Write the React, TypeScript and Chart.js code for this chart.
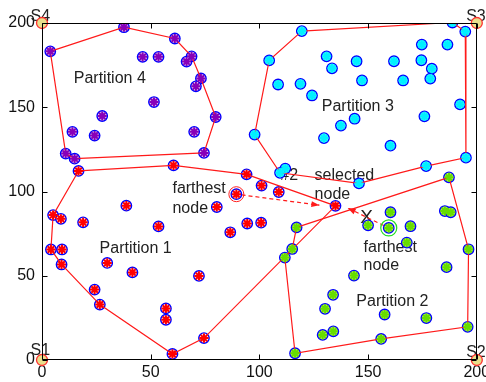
import React, { useEffect, useRef } from "react";
import { Chart, registerables } from "chart.js";

Chart.register(...registerables);

type Pt = [number, number];

const axisTicks = [0, 50, 100, 150, 200];

const partition1Nodes: Pt[] = [
  [16.8, 112.2], [60.5, 115.5], [94.1, 110.2], [101.0, 103.5], [108.9, 99.7],
  [135.0, 91.5], [89.4, 98.4], [80.4, 90.8], [38.8, 91.6], [5.1, 86.0],
  [8.7, 83.8], [18.9, 81.7], [53.6, 79.3], [94.4, 81.0], [100.8, 81.5],
  [86.6, 75.8], [4.1, 65.6], [9.2, 65.6], [9.0, 56.7], [30.0, 57.6],
  [41.6, 52.0], [72.2, 49.9], [24.2, 41.8], [26.6, 32.9], [57.0, 30.6],
  [57.0, 23.9], [74.5, 13.0], [60.0, 3.6],
];

const partition2Nodes: Pt[] = [
  [187.2, 108.4], [117.1, 78.7], [115.1, 65.9], [111.7, 60.8], [160.3, 87.7],
  [150.0, 79.9], [159.5, 78.4], [169.5, 79.4], [167.8, 69.7], [185.3, 88.4],
  [188.0, 87.7], [196.2, 65.7], [186.1, 55.1], [143.5, 50.1], [133.9, 38.7],
  [130.2, 30.4], [157.6, 27.0], [176.8, 24.9], [134.0, 17.0], [129.1, 14.9],
  [156.0, 12.5], [195.8, 19.7], [116.4, 4.0],
];

const partition3Nodes: Pt[] = [
  [188.8, 200.3], [194.7, 194.9], [119.5, 195.2], [104.5, 177.8], [174.7, 187.2],
  [186.5, 187.2], [130.9, 180.2], [133.4, 173.1], [144.7, 177.3], [161.9, 177.3],
  [174.5, 177.9], [179.3, 172.9], [178.6, 167.0], [108.6, 163.5], [118.9, 163.9],
  [147.2, 165.9], [166.1, 165.9], [124.2, 157.0], [192.3, 151.7], [143.8, 143.2],
  [137.5, 139.1], [175.9, 144.6], [129.7, 131.7], [160.3, 127.2], [97.8, 133.8],
  [195.0, 120.1], [176.7, 115.1], [111.9, 113.6], [109.5, 111.1], [145.8, 104.8],
];

const partition4Nodes: Pt[] = [
  [37.7, 197.5], [61.1, 190.8], [3.8, 183.2], [46.3, 179.9], [53.6, 179.9],
  [68.8, 180.2], [66.5, 177.1], [73.1, 167.1], [70.8, 162.4], [51.5, 153.1],
  [79.9, 144.2], [27.7, 144.8], [14.0, 135.4], [24.2, 133.2], [70.0, 135.4],
  [10.9, 122.5], [15.0, 119.5], [74.5, 122.9],
];

const hull1: Pt[] = [
  [16.8, 112.2], [60.5, 115.5], [94.1, 110.2], [135.0, 91.5], [74.5, 13.0],
  [60.0, 3.6], [26.6, 32.9], [9.0, 56.7], [4.1, 65.6], [5.1, 86.0], [16.8, 112.2],
];
const hull2: Pt[] = [
  [117.1, 78.7], [187.2, 108.4], [196.2, 65.7], [195.8, 19.7], [156.0, 12.5],
  [116.4, 4.0], [111.7, 60.8], [115.1, 65.9], [117.1, 78.7],
];
const hull3: Pt[] = [
  [119.5, 195.2], [188.8, 200.3], [194.7, 194.9], [195.0, 120.1], [176.7, 115.1],
  [145.8, 104.8], [109.5, 111.1], [97.8, 133.8], [104.5, 177.8], [119.5, 195.2],
];
const hull4: Pt[] = [
  [3.8, 183.2], [37.7, 197.5], [61.1, 190.8], [68.8, 180.2], [73.1, 167.1],
  [79.9, 144.2], [74.5, 122.9], [15.0, 119.5], [10.9, 122.5], [3.8, 183.2],
];

const sinkNodes: Pt[] = [[0, 0], [200, 0], [200, 200], [0, 200]];
const sinkNames = ["S1", "S2", "S3", "S4"];
const sinkLabelPos: Pt[] = [[-5.3, 2.7], [195.1, 1.7], [195.1, 201.1], [-5.3, 201.1]];

const farthestNode1: Pt = [89.4, 98.4];
const farthestNode2: Pt = [159.5, 78.4];
const arrow1: Pt[] = [[91.8, 98.0], [127.6, 91.9]];
const arrow2: Pt[] = [[157.2, 79.8], [140.6, 90.2]];

const textLabels = [
  { text: "Partition 4", x: 14.6, y: 164.6, size: 16 },
  { text: "Partition 3", x: 128.7, y: 147.9, size: 16 },
  { text: "Partition 1", x: 26.5, y: 63.6, size: 16 },
  { text: "Partition 2", x: 144.6, y: 31.8, size: 16 },
  { text: "farthest", x: 60.0, y: 98.9, size: 16 },
  { text: "node", x: 60.0, y: 87.0, size: 16 },
  { text: "#2", x: 109.6, y: 106.8, size: 16 },
  { text: "selected", x: 125.4, y: 106.8, size: 16 },
  { text: "node", x: 125.4, y: 95.4, size: 16 },
  { text: "farthest", x: 147.9, y: 64.2, size: 16 },
  { text: "node", x: 147.9, y: 53.3, size: 16 },
  { text: "X", x: 146.4, y: 81.3, size: 19 },
];

const FONT = '"Liberation Sans", Arial, Helvetica, sans-serif';

export default function App() {
  const ref = useRef<HTMLCanvasElement>(null);

  useEffect(() => {
    document.body.style.margin = "0";
    const xy = (pts: Pt[]) => pts.map(([x, y]) => ({ x, y }));

    const groups = [
      { pts: partition1Nodes, star: "#ff0000", fill: "#fbe6ee" },
      { pts: partition2Nodes, star: "#66dd00", fill: "#b4e860" },
      { pts: partition3Nodes, star: "#00f0ff", fill: "#40f2fa" },
      { pts: partition4Nodes, star: "#8800b8", fill: "#dccbf2" },
    ];

    const datasets: any[] = [];
    datasets.push({
      data: xy(sinkNodes), pointStyle: "circle", pointRadius: 5.5,
      pointBackgroundColor: "#e8df8c", pointBorderColor: "#ff3030", pointBorderWidth: 1.3,
      showLine: false, clip: false, order: -2,
    });
    datasets.push({
      data: xy([farthestNode1]), pointStyle: "circle", pointRadius: 7.5,
      pointBackgroundColor: "rgba(0,0,0,0)", pointBorderColor: "#ff2020", pointBorderWidth: 1,
      showLine: false, order: -1,
    });
    datasets.push({
      data: xy([farthestNode2]), pointStyle: "circle", pointRadius: 8,
      pointBackgroundColor: "rgba(0,0,0,0)", pointBorderColor: "#22dd22", pointBorderWidth: 1.2,
      showLine: false, order: -1,
    });
    groups.forEach((g) => {
      datasets.push({
        data: xy(g.pts), pointStyle: "star", pointRadius: 4.6,
        pointBorderColor: g.star, pointBorderWidth: 2, pointBackgroundColor: g.star,
        showLine: false, order: 0,
      });
    });
    [hull1, hull2, hull3, hull4].forEach((h) => {
      datasets.push({
        data: xy(h), showLine: true, borderColor: "#ff1a1a", borderWidth: 1.2,
        pointRadius: 0, fill: false, order: 1,
      });
    });
    groups.forEach((g) => {
      datasets.push({
        data: xy(g.pts), pointStyle: "circle", pointRadius: 5.2,
        pointBorderColor: "#0000ff", pointBorderWidth: 1.4, pointBackgroundColor: g.fill,
        showLine: false, order: 2,
      });
    });
    [arrow1, arrow2].forEach((a) => {
      datasets.push({
        data: xy(a), showLine: true, borderColor: "#ff1a1a", borderWidth: 1.2,
        borderDash: [4, 3], pointRadius: 0, fill: false, order: 3,
      });
    });

    const framePlugin = {
      id: "frame",
      beforeDatasetsDraw(chart: any) {
        const { ctx, scales } = chart;
        const sx = scales.x, sy = scales.y;
        ctx.save();
        ctx.fillStyle = "#222";
        ctx.textAlign = "left";
        ctx.textBaseline = "alphabetic";
        textLabels.forEach((t) => {
          ctx.font = `${t.size}px ${FONT}`;
          ctx.fillText(t.text, sx.getPixelForValue(t.x), sy.getPixelForValue(t.y));
        });
        ctx.font = `16px ${FONT}`;
        sinkNames.forEach((n, i) => {
          ctx.fillText(n, sx.getPixelForValue(sinkLabelPos[i][0]), sy.getPixelForValue(sinkLabelPos[i][1]));
        });
        ctx.restore();
      },
      afterDatasetsDraw(chart: any) {
        const { ctx, scales } = chart;
        const sx = scales.x, sy = scales.y;
        ctx.save();
        ctx.fillStyle = "#ff1a1a";
        [arrow1, arrow2].forEach((a) => {
          const x0 = sx.getPixelForValue(a[0][0]), y0 = sy.getPixelForValue(a[0][1]);
          const x1 = sx.getPixelForValue(a[1][0]), y1 = sy.getPixelForValue(a[1][1]);
          const ang = Math.atan2(y1 - y0, x1 - x0);
          const L = 8, W = 3;
          ctx.beginPath();
          ctx.moveTo(x1, y1);
          ctx.lineTo(x1 - L * Math.cos(ang) + W * Math.sin(ang), y1 - L * Math.sin(ang) - W * Math.cos(ang));
          ctx.lineTo(x1 - L * Math.cos(ang) - W * Math.sin(ang), y1 - L * Math.sin(ang) + W * Math.cos(ang));
          ctx.closePath();
          ctx.fill();
        });
        ctx.restore();
      },
      afterDraw(chart: any) {
        const { ctx, chartArea, scales } = chart;
        const { left, right, top, bottom } = chartArea;
        ctx.save();
        ctx.strokeStyle = "#000";
        ctx.lineWidth = 1;
        const l = Math.round(left) + 0.5, r = Math.round(right) - 0.5;
        const t = Math.round(top) + 0.5, b = Math.round(bottom) - 0.5;
        ctx.beginPath();
        ctx.rect(l, t, r - l, b - t);
        const tl = 5;
        axisTicks.forEach((v) => {
          const px = Math.round(scales.x.getPixelForValue(v)) + 0.5;
          ctx.moveTo(px, b); ctx.lineTo(px, b - tl);
          ctx.moveTo(px, t); ctx.lineTo(px, t + tl);
          const py = Math.round(scales.y.getPixelForValue(v)) + 0.5;
          ctx.moveTo(l, py); ctx.lineTo(l + tl, py);
          ctx.moveTo(r, py); ctx.lineTo(r - tl, py);
        });
        ctx.stroke();
        ctx.restore();
      },
    };

    const fixScale = (w: number | null, h: number | null) => (scale: any) => {
      if (w !== null) scale.width = w;
      if (h !== null) scale.height = h;
      scale.paddingLeft = 0; scale.paddingRight = 0;
      scale.paddingTop = 0; scale.paddingBottom = 0;
    };

    const chart = new Chart(ref.current!, {
      type: "scatter",
      data: { datasets },
      options: {
        animation: false,
        responsive: false,
        devicePixelRatio: 1,
        events: [],
        layout: { padding: { top: 23, right: 9, left: 0, bottom: 0 } },
        plugins: { legend: { display: false }, tooltip: { enabled: false } },
        scales: {
          x: {
            type: "linear", min: 0, max: 200,
            afterBuildTicks: (s: any) => { s.ticks = axisTicks.map((v) => ({ value: v })); },
            ticks: { color: "#111", font: { family: FONT, size: 16 }, padding: 3 },
            grid: { display: false, drawTicks: false },
            border: { display: false },
            afterFit: fixScale(null, 22),
          },
          y: {
            type: "linear", min: 0, max: 200,
            afterBuildTicks: (s: any) => { s.ticks = axisTicks.map((v) => ({ value: v })); },
            ticks: { color: "#111", font: { family: FONT, size: 16 }, padding: 7 },
            grid: { display: false, drawTicks: false },
            border: { display: false },
            afterFit: fixScale(42, null),
          },
        },
      } as any,
      plugins: [framePlugin],
    });
    return () => chart.destroy();
  }, []);

  return (
    <canvas
      ref={ref}
      width={486}
      height={382}
      style={{ display: "block", width: 486, height: 382, background: "#fff" }}
    />
  );
}
